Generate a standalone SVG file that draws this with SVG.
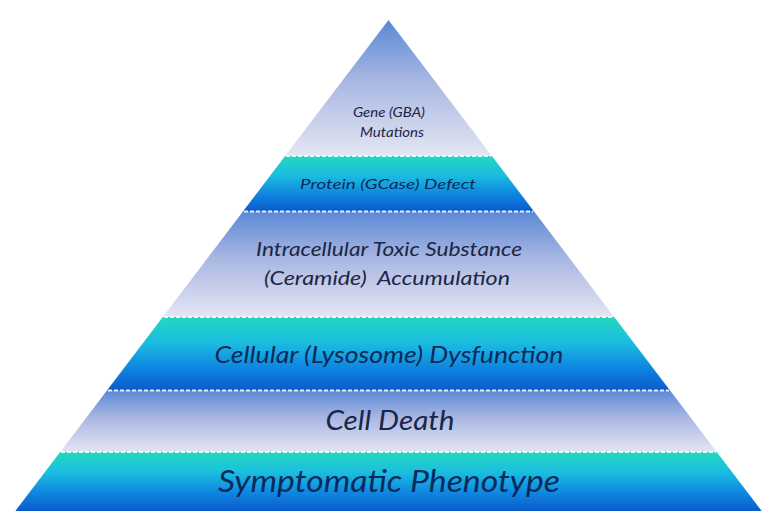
<svg xmlns="http://www.w3.org/2000/svg" width="779" height="521" viewBox="0 0 779 521">
<defs>
<linearGradient id="lav" x1="0" y1="0" x2="0" y2="1">
<stop offset="0" stop-color="#5a88d6"/>
<stop offset="0.45" stop-color="#a9b7e2"/>
<stop offset="1" stop-color="#e4e6f3"/>
</linearGradient>
<linearGradient id="teal" x1="0" y1="0" x2="0" y2="1">
<stop offset="0" stop-color="#22d8bf"/>
<stop offset="0.35" stop-color="#1bbde0"/>
<stop offset="0.7" stop-color="#0f85e0"/>
<stop offset="1" stop-color="#0a5ccc"/>
</linearGradient>
<style>
.t{font-family:Lato,"Open Sans","Liberation Sans",sans-serif;font-style:italic;text-anchor:middle;fill:#1b2644}
.d{fill:#0b2a5c}
.sep{stroke:#ffffff;stroke-width:2;stroke-dasharray:4 2;fill:none;opacity:0.85}
</style>
</defs>
<rect width="779" height="521" fill="#ffffff"/>
<g id="gene">
<polygon points="388.5,20 491.9,156 285.1,156" fill="url(#lav)"/>
<text class="t" x="389" y="117" font-size="13" textLength="72" lengthAdjust="spacingAndGlyphs">Gene (GBA)</text>
<text class="t" x="392" y="137" font-size="13" textLength="64" lengthAdjust="spacingAndGlyphs">Mutations</text>
</g>
<g id="protein">
<polygon points="285.1,156 491.9,156 533.7,211 243.3,211" fill="url(#teal)"/>
<text class="t d" x="388" y="189" font-size="14" textLength="176" lengthAdjust="spacingAndGlyphs">Protein (GCase) Defect</text>
</g>
<g id="intracellular">
<polygon points="243.3,211 533.7,211 614.2,317 162.8,317" fill="url(#lav)"/>
<text class="t" x="389" y="256" font-size="20" textLength="266" lengthAdjust="spacingAndGlyphs">Intracellular Toxic Substance</text>
<text class="t" x="387" y="285" font-size="20" textLength="246" lengthAdjust="spacingAndGlyphs">(Ceramide)&#160; Accumulation</text>
</g>
<g id="cellular">
<polygon points="162.8,317 614.2,317 669.7,390 107.3,390" fill="url(#teal)"/>
<text class="t d" x="389" y="363" font-size="24" textLength="349" lengthAdjust="spacingAndGlyphs">Cellular (Lysosome) Dysfunction</text>
</g>
<g id="celldeath">
<polygon points="107.3,390 669.7,390 716.8,452 60.2,452" fill="url(#lav)"/>
<text class="t" x="390" y="430" font-size="27" textLength="129" lengthAdjust="spacingAndGlyphs">Cell Death</text>
</g>
<g id="symptomatic">
<polygon points="60.2,452 716.8,452 761.7,511 15.3,511" fill="url(#teal)"/>
<text class="t d" x="389" y="492" font-size="30" textLength="342" lengthAdjust="spacingAndGlyphs">Symptomatic Phenotype</text>
</g>
<g id="connectors">
<line class="sep" x1="286" y1="156" x2="491" y2="156"/>
<line class="sep" x1="244" y1="211.5" x2="533" y2="211.5"/>
<line class="sep" x1="164" y1="317" x2="613" y2="317"/>
<line class="sep" x1="108" y1="390.5" x2="669" y2="390.5"/>
<line class="sep" x1="61" y1="452" x2="716" y2="452"/>
</g>
</svg>
